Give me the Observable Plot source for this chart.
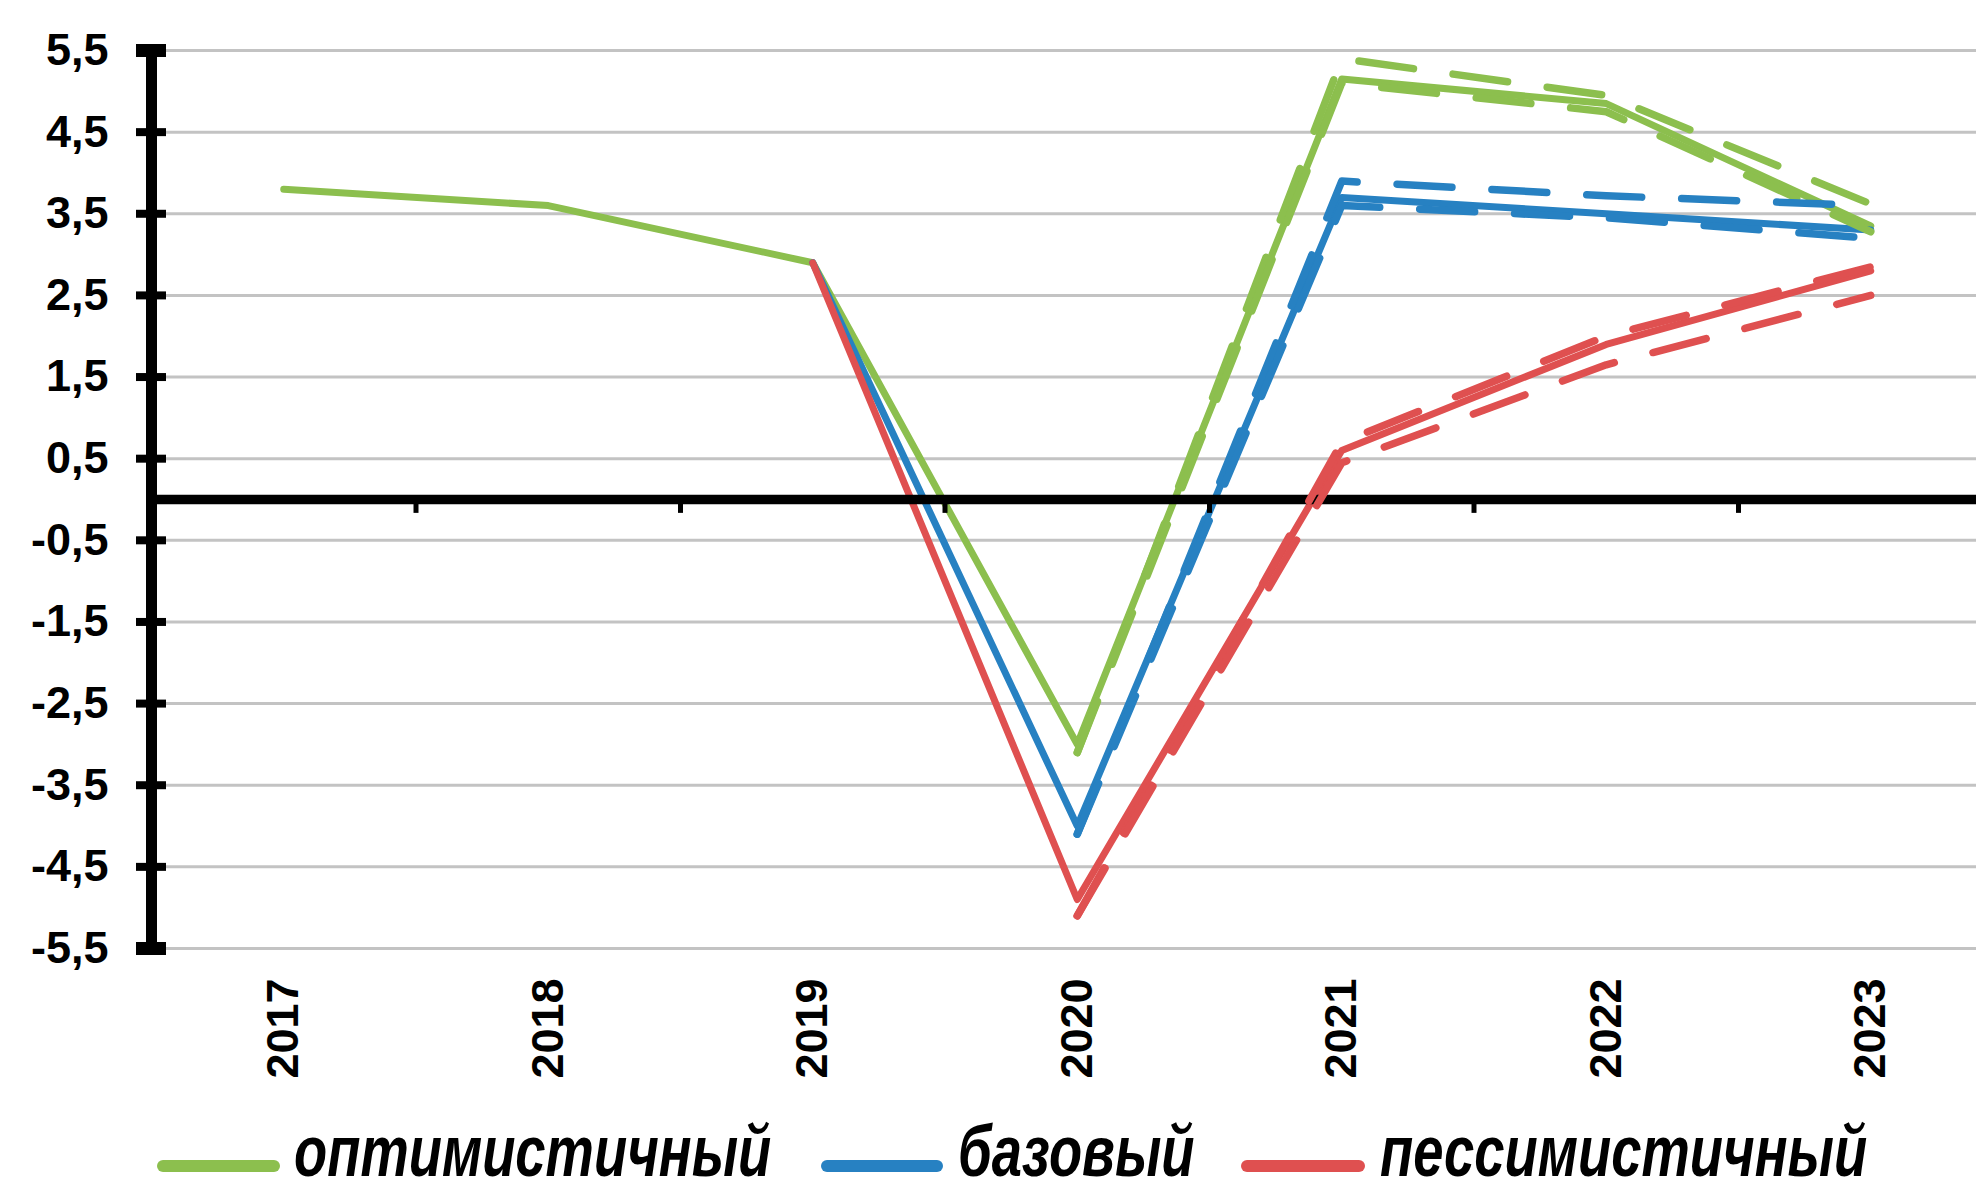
<!DOCTYPE html>
<html>
<head>
<meta charset="utf-8">
<script src="https://cdn.jsdelivr.net/npm/d3@7"></script>
<script src="https://cdn.jsdelivr.net/npm/@observablehq/plot@0.6"></script>
<style>
  html, body { margin: 0; padding: 0; background: white; }
  #chart { position: relative; width: 1976px; }
  #legend { position: relative; width: 1976px; height: 83px; overflow: visible; }
  .sw { position: absolute; height: 12px; border-radius: 6px; }
  .lt { position: absolute; font-family: "Liberation Sans", Arial, sans-serif; font-weight: bold; font-style: italic;
        font-size: 72px; line-height: 60px; white-space: nowrap; transform: scaleX(0.755); transform-origin: 0 0; color: #000; }
</style>
</head>
<body>
<div id="chart"></div>
<div id="legend"></div>
<script>
// ---- data ----
const years = [2017, 2018, 2019, 2020, 2021, 2022, 2023];
const yTicks = [5.5, 4.5, 3.5, 2.5, 1.5, 0.5, -0.5, -1.5, -2.5, -3.5, -4.5, -5.5];
const yDomain = [-5.5, 5.5];
const boundaries = [2017.5, 2018.5, 2019.5, 2020.5, 2021.5, 2022.5];

const seriesNames = ["оптимистичный", "базовый", "пессимистичный"];
const colors = ["#8cbf4e", "#2781c2", "#df5050"];

// solid lines (scenario paths)
const optimistic  = [3.8, 3.6, 2.9, -3.0, 5.15, 4.85, 3.35];
const base        = [null, null, 2.9, -4.0, 3.7, 3.5, 3.3];
const pessimistic = [null, null, 2.9, -4.9, 0.6, 1.9, 2.8];

// dashed range bounds
const optUpper  = [null, null, null, -3.1, 5.4, 4.95, 3.62];
const optLower  = [null, null, null, -3.1, 5.1, 4.75, 3.28];
const baseUpper = [null, null, null, -4.1, 3.9, 3.72, 3.6];
const baseLower = [null, null, null, -4.1, 3.6, 3.45, 3.2];
const pesUpper  = [null, null, null, -5.1, 0.7, 2.0, 2.85];
const pesLower  = [null, null, null, -5.1, 0.45, 1.65, 2.5];

// ---- build tables ----
function toRows(values, series) {
  return years.map((year, i) => ({year, value: values[i], series})).filter(d => d.value != null);
}
const solidRows = [
  ...toRows(optimistic, 0), ...toRows(base, 1), ...toRows(pessimistic, 2)
];
const dashedRows = [
  ...toRows(optUpper, "0u"), ...toRows(optLower, "0l"),
  ...toRows(baseUpper, "1u"), ...toRows(baseLower, "1l"),
  ...toRows(pesUpper, "2u"), ...toRows(pesLower, "2l")
];
const colorOf = s => colors[+String(s)[0]];

const fmt = d => String(d).replace(".", ",");

const chart = Plot.plot({
  width: 1976,
  height: 1110,
  marginLeft: 151,
  marginRight: 0,
  marginTop: 50,
  marginBottom: 162,
  x: {domain: [2016.5, 2023.5], range: [151, 2002.5], axis: null, label: null},
  y: {domain: yDomain, range: [948, 50], axis: null, label: null},
  style: {fontFamily: "'Liberation Sans', Arial, sans-serif", background: "white", color: "black"},
  marks: [
    Plot.ruleY(yTicks, {stroke: "#c3c3c3", strokeWidth: 3}),
    // solid scenario lines
    ...[0, 1, 2].map(k => Plot.line(solidRows.filter(d => d.series === k), {
      x: "year", y: "value", stroke: colors[k], strokeWidth: 7, strokeLinejoin: "round", strokeLinecap: "round"
    })),
    // zero line
    Plot.ruleY([0], {stroke: "black", strokeWidth: 9.5}),
    Plot.ruleX(boundaries, {y1: 0, y2: -0.17, stroke: "black", strokeWidth: 5}),
    // dashed ranges
    ...["0u", "0l", "1u", "1l", "2u", "2l"].map(s => Plot.line(dashedRows.filter(d => d.series === s), {
      x: "year", y: "value", stroke: colorOf(s), strokeWidth: 7.5,
      strokeDasharray: "55,40", strokeLinecap: "round", strokeLinejoin: "round"
    })),
    // y axis
    Plot.ruleX([2016.5], {y1: yDomain[0], y2: yDomain[1], stroke: "black", strokeWidth: 11}),
    Plot.axisY(yTicks, {tickSize: 30, dx: 15, tickFormat: () => "", strokeWidth: 8, stroke: "black", label: null}),
    Plot.axisY([yDomain[0], yDomain[1]], {tickSize: 30, dx: 15, tickFormat: () => "", strokeWidth: 13, stroke: "black", label: null}),
    Plot.axisY(yTicks, {tickSize: 0, tickPadding: 43, tickFormat: fmt, fontSize: 45, fontWeight: "bold", fill: "black", label: null}),
    // x axis labels
    Plot.axisX(years, {anchor: "bottom", tickSize: 0, tickPadding: 30, tickRotate: -90, tickFormat: d => String(d),
      fontSize: 45, fontWeight: "bold", fill: "black", label: null})
  ]
});
document.getElementById("chart").appendChild(chart);

// ---- legend ----
const legend = document.getElementById("legend");
const legendPos = [
  {sw: [157, 123], tx: 294},
  {sw: [821, 122], tx: 958},
  {sw: [1241, 124], tx: 1380}
];
seriesNames.forEach((name, i) => {
  const sw = document.createElement("div");
  sw.className = "sw";
  sw.style.left = legendPos[i].sw[0] + "px";
  sw.style.width = legendPos[i].sw[1] + "px";
  sw.style.top = (1166 - 1110 - 6) + "px";
  sw.style.background = colors[i];
  legend.appendChild(sw);
  const t = document.createElement("div");
  t.className = "lt";
  t.style.left = legendPos[i].tx + "px";
  t.style.top = "11px";
  t.textContent = name;
  legend.appendChild(t);
});
</script>
</body>
</html>
